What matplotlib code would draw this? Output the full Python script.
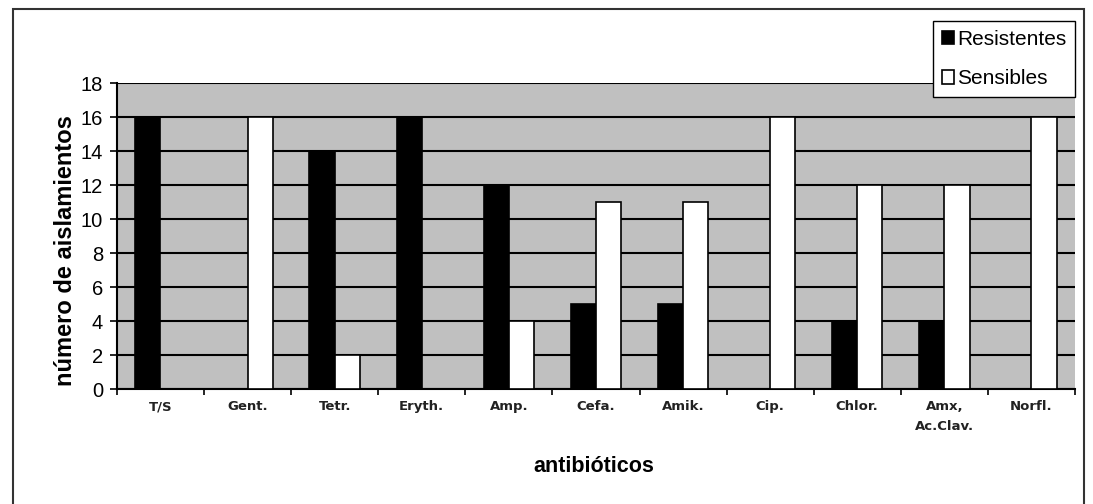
import matplotlib.pyplot as plt
import numpy as np
from matplotlib.patches import Rectangle

plt.rcParams['font.family'] = ['Liberation Sans', 'DejaVu Sans']

categorias = ['T/S', 'Gent.', 'Tetr.', 'Eryth.', 'Amp.', 'Cefa.', 'Amik.',
              'Cip.', 'Chlor.', 'Amx,\nAc.Clav.', 'Norfl.']
resistentes = [16, 0, 14, 16, 12, 5, 5, 0, 4, 4, 0]
sensibles = [0, 16, 2, 0, 4, 11, 11, 16, 12, 12, 16]

fig = plt.figure(figsize=(10.93, 5.04), dpi=100)
ax = fig.add_axes([0.107, 0.228, 0.8765, 0.607])
ax.set_facecolor('#c0c0c0')

x = np.arange(len(categorias))
w = 0.29
ax.bar(x - w / 2, resistentes, w, color='black', edgecolor='black',
       linewidth=1.2, label='Resistentes', zorder=3)
ax.bar(x + w / 2, sensibles, w, color='white', edgecolor='black',
       linewidth=1.2, label='Sensibles', zorder=3)

ax.set_xlim(-0.5, len(categorias) - 0.5)
ax.set_ylim(0, 18)
ax.set_yticks(range(0, 19, 2))
ax.yaxis.grid(True, color='black', linewidth=1.5, zorder=1)
ax.set_axisbelow(True)

ax.set_xticks(x)
ax.set_xticklabels(categorias, fontsize=9.5, fontweight='bold', color='#222222',
                   linespacing=1.7, family='DejaVu Sans')
ax.set_xticks(np.arange(-0.5, len(categorias), 1), minor=True)
ax.tick_params(axis='x', which='major', length=0, pad=8)
ax.tick_params(axis='x', which='minor', length=4, width=1.2, direction='out')
ax.tick_params(axis='y', labelsize=14.5, length=5, width=1.2, pad=5)

for s in ['top', 'right']:
    ax.spines[s].set_visible(False)
ax.spines['left'].set_linewidth(1.5)
ax.spines['bottom'].set_linewidth(1.5)

fig.text(66 / 1093, 1 - 251 / 504, 'número de aislamientos', rotation=90,
         ha='center', va='center', fontsize=17, fontweight='bold')
fig.text(594 / 1093, 1 - 466 / 504, 'antibióticos',
         ha='center', va='center', fontsize=15.5, fontweight='bold')

fig.legend(loc='upper right', bbox_to_anchor=(0.9835, 0.958), fontsize=15,
           frameon=True, fancybox=False, edgecolor='black', framealpha=1,
           handlelength=0.6, handleheight=0.6, handletextpad=0.15,
           borderpad=0.4, labelspacing=1.0, borderaxespad=0)

fig.patches.append(Rectangle((0.012, -0.05), 0.98, 1.032, transform=fig.transFigure,
                             fill=False, edgecolor='#333333', linewidth=1.5))

fig.savefig('out.png', dpi=100)
